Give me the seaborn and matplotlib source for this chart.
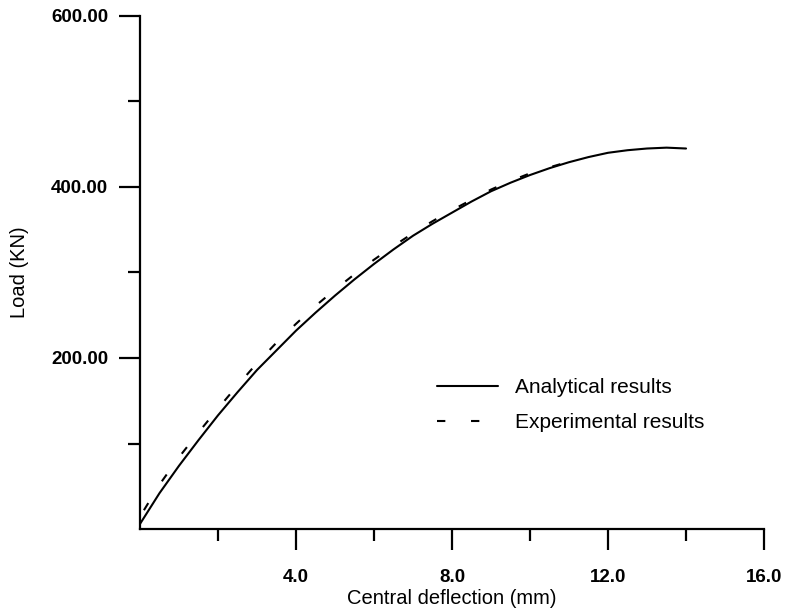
import matplotlib
matplotlib.use("Agg")
import matplotlib.pyplot as plt
import seaborn as sns
from matplotlib.lines import Line2D
from matplotlib.ticker import FixedLocator

# values
analytical_deflection = [0.0, 0.5, 1.0, 1.5, 2.0, 2.5, 3.0, 3.5, 4.0, 4.5, 5.0, 5.5, 6.0, 6.5, 7.0,
                         7.5, 8.0, 8.5, 9.0, 9.5, 10.0, 10.5, 11.0, 11.5, 12.0, 12.5, 13.0, 13.5, 14.0]
analytical_load = [6, 42, 74, 104, 133, 160, 186, 209, 232, 253, 273, 292, 310, 327, 343,
                   357, 370, 383, 395, 405, 414, 422, 429, 435, 440, 443, 445, 446, 445]

experimental_deflection = [0.1, 0.5, 1.0, 1.5, 2.0, 2.5, 3.0, 3.5, 4.0, 4.5, 5.0, 5.5, 6.0, 6.5,
                           7.0, 7.5, 8.0, 8.5, 9.0, 9.5, 10.0, 10.5, 10.8]
experimental_load = [22, 52, 84, 113, 141, 168, 194, 218, 240, 261, 280, 298, 315, 331,
                     346, 360, 373, 385, 397, 407, 416, 423, 427]

series_labels = ["Analytical results", "Experimental results"]
x_major_ticks = [4, 8, 12, 16]
x_tick_labels = ["4.0", "8.0", "12.0", "16.0"]
x_minor_ticks = [2, 6, 10, 14]
y_major_ticks = [200, 400, 600]
y_tick_labels = ["200.00", "400.00", "600.00"]
y_minor_ticks = [100, 300, 500]

sns.set_style("ticks")
plt.rcParams["font.family"] = ["Liberation Sans", "DejaVu Sans"]
plt.rcParams["lines.scale_dashes"] = False
plt.rcParams["text.color"] = "black"
plt.rcParams["axes.labelcolor"] = "black"
plt.rcParams["xtick.color"] = "black"
plt.rcParams["ytick.color"] = "black"

dash = (0, (6, 18.5))

fig = plt.figure(figsize=(7.88, 6.12), dpi=100)
ax = fig.add_axes([0.1777, 0.1356, 0.7919, 0.8383])

sns.lineplot(x=analytical_deflection, y=analytical_load, color="black", lw=1.5, ax=ax, legend=False)
sns.lineplot(x=experimental_deflection, y=experimental_load, color="black", lw=1.5, ax=ax,
             legend=False, linestyle=dash)

ax.set_xlim(0, 16)
ax.set_ylim(0, 600)
sns.despine(ax=ax)
for side in ["left", "bottom"]:
    ax.spines[side].set_linewidth(1.6)
    ax.spines[side].set_color("black")

ax.xaxis.set_major_locator(FixedLocator(x_major_ticks))
ax.xaxis.set_minor_locator(FixedLocator(x_minor_ticks))
ax.yaxis.set_major_locator(FixedLocator(y_major_ticks))
ax.yaxis.set_minor_locator(FixedLocator(y_minor_ticks))
ax.set_xticklabels(x_tick_labels, fontweight="bold", fontsize=13.5)
ax.set_yticklabels(y_tick_labels, fontweight="bold", fontsize=13.5)
ax.tick_params(which="major", length=15, width=1.6, colors="black", direction="out")
ax.tick_params(which="minor", length=8.5, width=1.6, colors="black", direction="out")
ax.tick_params(axis="x", which="major", pad=14)
ax.tick_params(axis="y", which="major", pad=8)

ax.set_xlabel("Central deflection (mm)", fontsize=14.5, labelpad=2)
ax.set_ylabel("Load (KN)", fontsize=14.5)
ax.yaxis.set_label_coords(-0.178, 0.5)

handles = [Line2D([], [], color="black", lw=1.5),
           Line2D([], [], color="black", lw=1.5, linestyle=dash)]
fig.legend(handles, series_labels, loc="center left", bbox_to_anchor=(437 / 788, 1 - 405 / 612),
           frameon=False, fontsize=15, handlelength=2.93, handletextpad=0.82,
           labelspacing=0.75, borderpad=0, borderaxespad=0)

fig.savefig("out.png", dpi=100)
